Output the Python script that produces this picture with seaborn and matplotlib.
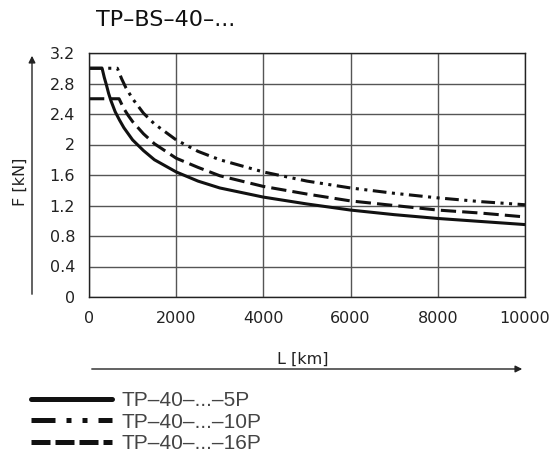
import matplotlib
matplotlib.use("Agg")
import matplotlib.pyplot as plt
import seaborn as sns
import pandas as pd

# Data
L_5P = [0, 300, 350, 400, 450, 500, 600, 700, 800, 1000, 1250, 1500, 2000, 2500, 3000, 4000, 5000, 6000, 7000, 8000, 9000, 10000]
F_5P = [3.0, 3.0, 2.88, 2.78, 2.67, 2.58, 2.43, 2.32, 2.22, 2.06, 1.92, 1.80, 1.64, 1.52, 1.43, 1.31, 1.22, 1.14, 1.08, 1.03, 0.99, 0.95]
L_10P = [0, 650, 700, 750, 850, 1000, 1250, 1500, 2000, 2500, 3000, 4000, 5000, 6000, 7000, 8000, 9000, 10000]
F_10P = [3.0, 3.0, 2.93, 2.86, 2.74, 2.60, 2.41, 2.27, 2.06, 1.91, 1.80, 1.64, 1.52, 1.43, 1.36, 1.30, 1.25, 1.21]
L_16P = [0, 690, 740, 800, 900, 1000, 1250, 1500, 2000, 2500, 3000, 4000, 5000, 6000, 7000, 8000, 9000, 10000]
F_16P = [2.6, 2.6, 2.54, 2.47, 2.38, 2.30, 2.14, 2.01, 1.82, 1.70, 1.59, 1.45, 1.35, 1.26, 1.20, 1.14, 1.10, 1.05]
labels = ["TP–40–...–5P", "TP–40–...–10P", "TP–40–...–16P"]
x_ticks = [0, 2000, 4000, 6000, 8000, 10000]
y_ticks = [0, 0.4, 0.8, 1.2, 1.6, 2.0, 2.4, 2.8, 3.2]
y_tick_labels = ["0", "0.4", "0.8", "1.2", "1.6", "2", "2.4", "2.8", "3.2"]
title = "TP–BS–40–..."

df = pd.concat([
    pd.DataFrame({"L": L_5P, "F": F_5P, "series": labels[0]}),
    pd.DataFrame({"L": L_10P, "F": F_10P, "series": labels[1]}),
    pd.DataFrame({"L": L_16P, "F": F_16P, "series": labels[2]}),
])

sns.set_style("white")
plt.rcParams["font.family"] = ["DejaVu Sans"]

fig = plt.figure(figsize=(5.53, 4.67), dpi=100)
ax = fig.add_axes([89/553, 1-297/467, 436/553, 244/467])

dashes = {labels[0]: "", labels[1]: (4.5, 1.8, 1, 1.8, 1, 1.8), labels[2]: (5, 2)}
sns.lineplot(data=df, x="L", y="F", style="series", dashes=dashes, color="#111111",
             lw=2.2, ax=ax, estimator=None, sort=False, legend=True)

ax.set_xlim(0, 10000)
ax.set_ylim(0, 3.2)
ax.set_xticks(x_ticks)
ax.set_xticklabels([str(v) for v in x_ticks], fontsize=11.5, color="#222222")
ax.set_yticks(y_ticks)
ax.set_yticklabels(y_tick_labels, fontsize=11.5, color="#222222")
ax.tick_params(axis="both", direction="out", length=6, width=1, color="#222222", pad=4)
ax.grid(True, color="#555555", lw=1)
for s in ax.spines.values():
    s.set_visible(True)
    s.set_color("#222222")
    s.set_linewidth(1)
ax.set_xlabel("")
ax.set_ylabel("")

# Titles / labels / arrows
fig.text(96/553, 1-20.5/467, title, fontsize=16, ha="left", va="center", color="#111111")
ax.text((20.5-89)/436, (297-182)/244, "F [kN]", rotation=90, ha="center", va="center",
        fontsize=11.5, transform=ax.transAxes, color="#222222")
ax.annotate("", xy=((32-89)/436, (297-53)/244), xytext=((32-89)/436, 0), xycoords="axes fraction",
            arrowprops=dict(arrowstyle="-|>", color="#222222", lw=1, mutation_scale=10))
ax.text((303-89)/436, -(359-297)/244, "L [km]", ha="center", va="center", fontsize=11.5,
        transform=ax.transAxes, color="#222222")
ax.annotate("", xy=(1, -(369-297)/244), xytext=(0, -(369-297)/244), xycoords="axes fraction",
            arrowprops=dict(arrowstyle="-|>", color="#222222", lw=1, mutation_scale=10))

handles, lbls = ax.get_legend_handles_labels()
leg = ax.legend(handles, lbls, loc="upper left", bbox_to_anchor=(31/553, 1-391/467),
                bbox_transform=fig.transFigure, frameon=False,
                prop={"family": "Liberation Sans", "size": 15}, handlelength=3.9,
                handletextpad=0.43, labelspacing=0.12, borderaxespad=0, borderpad=0,
                labelcolor="#444444")
leg_dashes = [None, (4.8, 2.2, 1, 2.2, 1, 2.2), (3.8, 1)]
for line, d in zip(leg.get_lines(), leg_dashes):
    line.set_linewidth(3.6)
    line.set_color("#111111")
    if d is not None:
        line.set_dashes(d)

fig.savefig("out.png", dpi=100)
